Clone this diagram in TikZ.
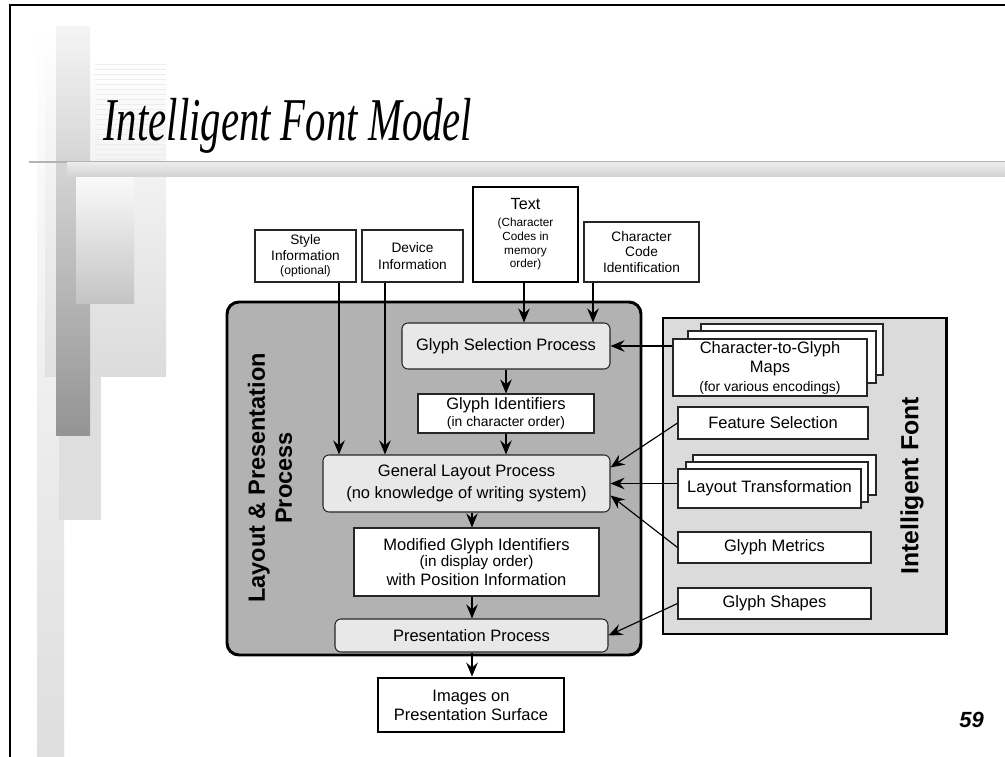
\documentclass[tikz,border=0pt]{standalone}
\usepackage{fontspec}
\usepackage{graphicx}
\setmainfont{Liberation Sans}
\newfontfamily\titleserif{Liberation Serif}
\usetikzlibrary{arrows.meta,calc}
\newcommand\fsnorm{\fontsize{9.4}{10.8}\selectfont}

\begin{document}
\begin{tikzpicture}[x=0.02cm,y=-0.02cm,
  box/.style={draw=black!85, line width=0.6pt, fill=white, inner sep=0pt, align=center, font=\fsnorm},
  heavy/.style={box, draw=black, line width=1.6pt},
  proc/.style={box, rounded corners=0.12cm, fill=black!9},
  wh/.style 2 args={minimum width=#1*0.02cm, minimum height=#2*0.02cm},
  arr/.style={-{Stealth[length=8pt,width=6.6pt,inset=2.8pt]}, line width=0.65pt},
  panel/.style={draw=black, line width=1.7pt, inner sep=0pt}
]
\useasboundingbox (0,0) rectangle (1005,757);
\fill[white] (0,0) rectangle (1005,757);

% slide background ornaments
\shade[top color=white, bottom color=black!13] (37,25) rectangle (64,757);
\shade[top color=white, bottom color=black!14] (90,60) rectangle (166,376);
\shade[top color=white, bottom color=black!12] (45,25) rectangle (90,376);
\fill[black!13] (59,376) rectangle (101,520);
\foreach \yy in {64,69,...,159} \draw[black!7, line width=0.4pt] (95,\yy) -- (166,\yy);
\shade[top color=black!4, bottom color=black!42] (56,27) rectangle (90,435);
\shade[top color=black!2, bottom color=black!23] (76,177) rectangle (134,303);
\draw[black!30, line width=0.6pt] (29,162) -- (1005,162);
\shade[top color=black!8, bottom color=black!18] (67,163) rectangle (1005,177);
\draw[line width=1pt] (10,757) -- (10,5) -- (1005,5);

% title and page number
\node[anchor=base west, inner sep=0pt] (title) at (103,141)
  {\scalebox{0.67}[1]{\titleserif\itshape\fontsize{34.6}{40}\selectfont Intelligent Font Model}};
\node[inner sep=0pt] (pagenum) at (971.5,720) {\bfseries\itshape\fontsize{12.5}{14}\selectfont 59};

% inputs
\node[box, wh={101}{52}, font=\fontsize{7.8}{9}\selectfont] (style) at (305.5,256)
  {Style\\Information\\[-1pt]{\fontsize{6.9}{8}\selectfont(optional)}};
\node[box, wh={101}{52}, font=\fontsize{7.8}{9.6}\selectfont] (device) at (412.5,256)
  {Device\\Information};
\node[heavy, wh={105}{95}, font=\fontsize{6.7}{7.8}\selectfont] (text) at (525.5,234.5)
  {{\fontsize{9.2}{11}\selectfont Text}\\[1.8pt](Character\\Codes in\\memory\\order)};
\node[box, wh={115}{60}, font=\fontsize{7.8}{9}\selectfont] (ccid) at (641.5,252)
  {Character\\Code\\Identification};

% layout & presentation process
\node[panel, fill=black!30, rounded corners=0.24cm, wh={414}{353}] (lpp) at (434,478.5) {};
\node[rotate=90, align=center, font=\bfseries\fontsize{13.4}{15.3}\selectfont] (lpplabel) at (270,478)
  {Layout \& Presentation\\Process};

\node[proc, wh={208}{46}] (gsel) at (506,346) {Glyph Selection Process};
\node[box, wh={176}{39}] (gid) at (506,413.5)
  {Glyph Identifiers\\[-1.2pt]{\fontsize{7.9}{9}\selectfont (in character order)}};
\node[proc, wh={287}{57}] (glp) at (466.5,483.5)
  {General Layout Process\\[1.5pt](no knowledge of writing system)};
\node[box, wh={245}{68}] (mgid) at (476.5,562)
  {Modified Glyph Identifiers\\[-1.7pt]{\fontsize{8.7}{10}\selectfont (in display order)}\\with Position Information};
\node[proc, wh={273}{33}] (pres) at (471.5,635.5) {Presentation Process};
\node[heavy, wh={186}{54}] (img) at (471,705) {Images on\\Presentation Surface};

% intelligent font
\node[panel, fill=black!14, wh={283}{316}] (ifont) at (804.5,476) {};
\node[rotate=90, font=\bfseries\fontsize{14.1}{16}\selectfont] (iflabel) at (912,486) {Intelligent Font};
\node[box, wh={182}{51}] (mapsc) at (792,349.5) {};
\node[box, wh={188}{52}] (mapsb) at (782,357) {};
\node[box, wh={194}{57}] (maps) at (770,367.5)
  {Character-to-Glyph\\Maps\\{\fontsize{7.9}{9}\selectfont (for various encodings)}};
\node[box, wh={190}{32}] (feat) at (773,423) {Feature Selection};
\node[box, wh={183}{40}] (ltc) at (784.5,475) {};
\node[box, wh={182}{40}] (ltb) at (777,482) {};
\node[box, wh={183}{39}] (lt) at (769.5,488.5) {Layout Transformation};
\node[box, wh={193}{31}] (metr) at (774.5,547.5) {Glyph Metrics};
\node[box, wh={193}{31}] (shp) at (774.5,603.5) {Glyph Shapes};

% connector columns
\coordinate (xstyle) at (339,0);
\coordinate (xdev) at (385,0);
\coordinate (xtext) at (524,0);
\coordinate (xccid) at (593,0);
\coordinate (xmain) at (472,0);

\draw[arr] (style.south -| xstyle) -- (glp.north -| xstyle);
\draw[arr] (device.south -| xdev) -- (glp.north -| xdev);
\draw[arr] (text.south -| xtext) -- (gsel.north -| xtext);
\draw[arr] (ccid.south -| xccid) -- (gsel.north -| xccid);
\draw[arr] (gsel) -- (gid);
\draw[arr] (gid) -- (gid |- glp.north);
\draw[arr] (glp.south -| xmain) -- (mgid.north -| xmain);
\draw[arr] (mgid.south -| xmain) -- (pres.north -| xmain);
\draw[arr] (pres.south -| xmain) -- (img.north -| xmain);

\draw[arr] (gsel.east -| maps.west) -- (gsel.east);
\draw[arr] (feat.west) -- ($(glp.north east)+(0,13)$);
\draw[arr] (glp.east -| lt.west) -- (glp.east);
\draw[arr] (metr.west) -- ($(glp.south east)+(0,-17)$);
\draw[arr] (shp.west) -- (pres.east);
\end{tikzpicture}
\end{document}
